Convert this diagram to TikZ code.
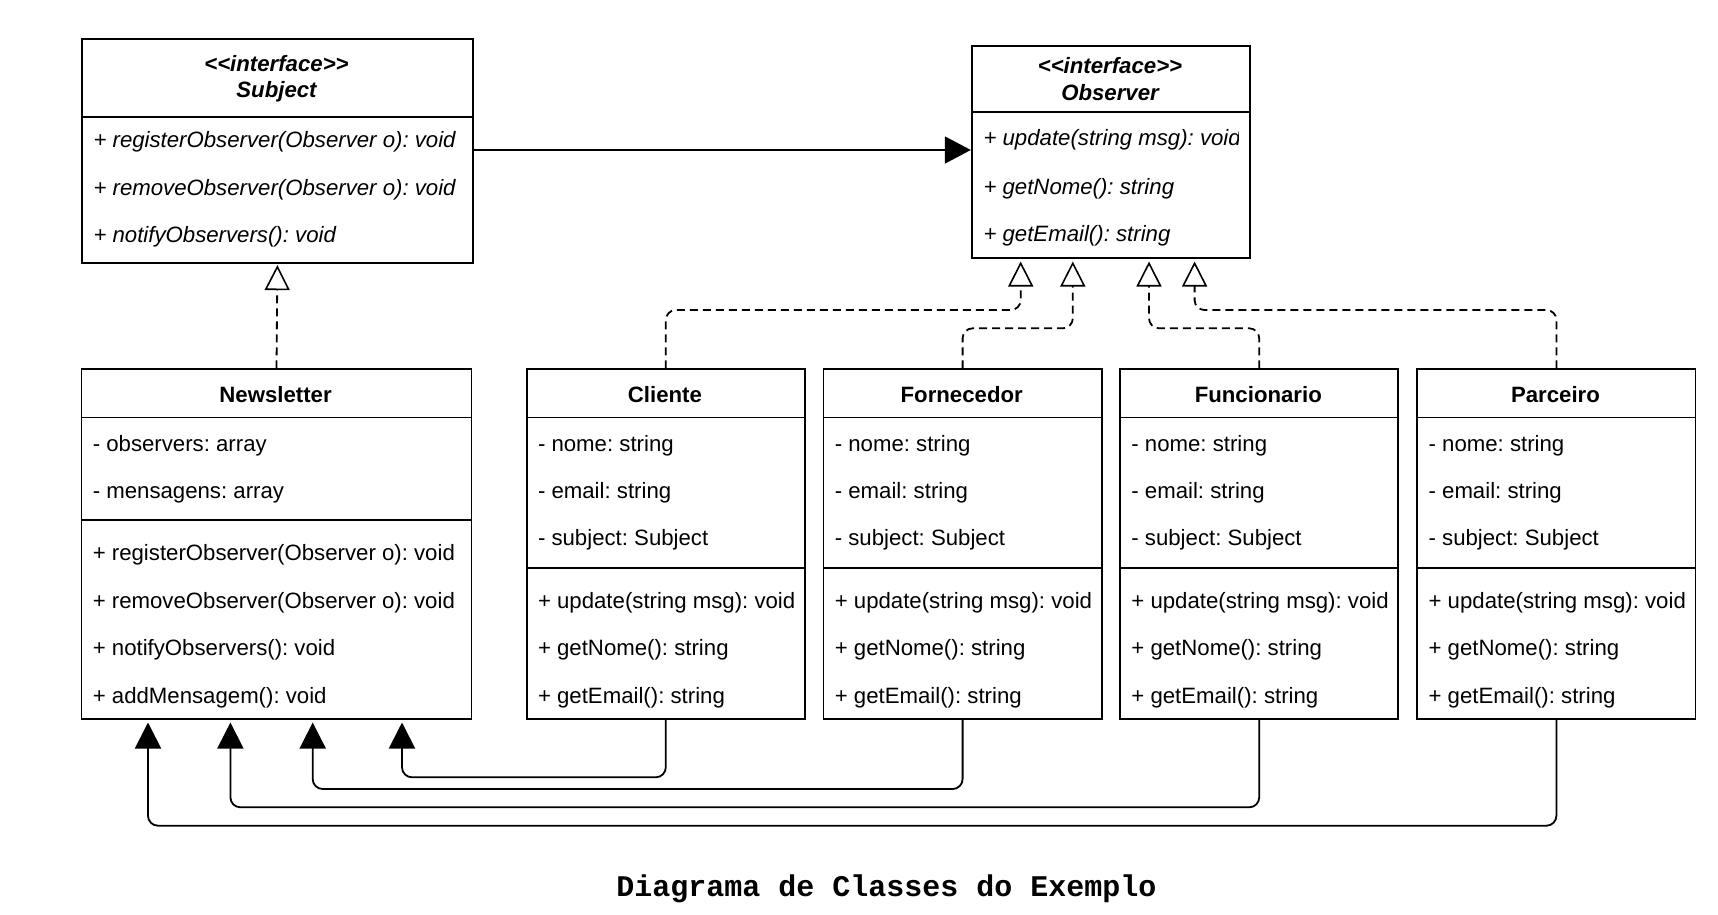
\documentclass[tikz,border=0pt]{standalone}
\usepackage{fontspec}
\setmainfont{Liberation Sans}
\newfontfamily\capfont{Liberation Mono}
\usetikzlibrary{arrows.meta}
\frenchspacing
\newcommand{\stereo}{{<}{<}interface{>}{>}}
\begin{document}
\begin{tikzpicture}[x=1pt,y=-1pt,
  cls/.style={draw, line width=1.8pt, rectangle, inner sep=0pt, anchor=north west},
  row/.style={anchor=base west, inner sep=0pt, font=\fontsize{22.2}{26}\selectfont\frenchspacing},
  irow/.style={anchor=base west, inner sep=0pt, font=\fontsize{22.2}{26}\selectfont\itshape\frenchspacing},
  ttl/.style={anchor=base, inner sep=0pt, font=\fontsize{22.2}{26}\selectfont\bfseries},
  ittl/.style={anchor=base, inner sep=0pt, font=\fontsize{22.2}{26}\selectfont\bfseries\itshape},
  sepline/.style={line width=1.8pt},
  realize/.style={line width=1.8pt, dash pattern=on 8pt off 5pt, rounded corners=10pt,
    -{Triangle[open, length=25pt, width=25pt, line width=1.6pt]}},
  assoc/.style={line width=1.8pt, rounded corners=10pt,
    -{Triangle[length=26pt, width=26pt]}}
]
\useasboundingbox (0,0) rectangle (1718,914);

% ---------------- Subject ----------------
\node[cls, minimum width=391pt, minimum height=224pt] (subj) at (81,38.3) {};
\draw[sepline] (subj.west |- 0,116.8) -- (subj.east |- 0,116.8);
\node[ittl] (subjst) at (276.5,71.3) {\stereo};
\node[ittl] (subjnm) at (276.5,97.3) {Subject};
\node[irow] (subjm1) at (93.3,147.8) {+ registerObserver(Observer o): void};
\node[irow] (subjm2) at (93.3,195.2) {+ removeObserver(Observer o): void};
\node[irow] (subjm3) at (93.3,242.6) {+ notifyObservers(): void};

% ---------------- Observer ----------------
\node[cls, minimum width=278pt, minimum height=212.3pt] (obs) at (970.8,45) {};
\draw[sepline] (obs.west |- 0,111.7) -- (obs.east |- 0,111.7);
\node[ittl] (obsst) at (1110,73.3) {\stereo};
\node[ittl] (obsnm) at (1110,100) {Observer};
\begin{scope}
  \clip (975,115) rectangle (1238.3,165);
  \node[irow] (obsm1) at (983.3,145) {+ update(string msg): void};
\end{scope}
\node[irow] (obsm2) at (983.3,194) {+ getNome(): string};
\node[irow] (obsm3) at (983.3,241.7) {+ getEmail(): string};

% ---------------- Newsletter ----------------
\node[cls, minimum width=390pt, minimum height=350pt] (news) at (80.6,368.3) {};
\draw[sepline] (news.west |- 0,417.5) -- (news.east |- 0,417.5);
\draw[sepline] (news.west |- 0,520) -- (news.east |- 0,520);
\node[ttl] (newst) at (275.6,402.3) {Newsletter};
\node[row] (newsa1) at (92.6,451.8) {- observers: array};
\node[row] (newsa2) at (92.6,498.5) {- mensagens: array};
\node[row] (newsm1) at (92.6,560.8) {+ registerObserver(Observer o): void};
\node[row] (newsm2) at (92.6,608.3) {+ removeObserver(Observer o): void};
\node[row] (newsm3) at (92.6,655.5) {+ notifyObservers(): void};
\node[row] (newsm4) at (92.6,703.3) {+ addMensagem(): void};

% ---------------- Observer classes ----------------
\foreach \n/\x/\t in {cli/525.8/Cliente, forn/822.6/Fornecedor, func/1119.2/Funcionario, parc/1416.4/Parceiro}{
  \node[cls, minimum width=278.2pt, minimum height=350pt] (\n) at (\x,368.3) {};
  \draw[sepline] (\n.west |- 0,417.5) -- (\n.east |- 0,417.5);
  \draw[sepline] (\n.west |- 0,568.3) -- (\n.east |- 0,568.3);
  \node[ttl] (\n t) at ([xshift=139.1pt]\x,402.3) {\t};
  \node[row] (\n a1) at ([xshift=12pt]\x,451.8) {- nome: string};
  \node[row] (\n a2) at ([xshift=12pt]\x,498.5) {- email: string};
  \node[row] (\n a3) at ([xshift=12pt]\x,545.2) {- subject: Subject};
  \node[row] (\n m1) at ([xshift=12pt]\x,608.3) {+ update(string msg): void};
  \node[row] (\n m2) at ([xshift=12pt]\x,655.5) {+ getNome(): string};
  \node[row] (\n m3) at ([xshift=12pt]\x,703.3) {+ getEmail(): string};
}

% ---------------- Connectors ----------------
% Subject -> Observer association
\draw[line width=1.8pt, -{Triangle[length=26pt, width=27pt]}] (subj.east |- 0,150) -- (obs.west |- 0,150);

% Newsletter realizes Subject
\draw[realize] (news.north) -- ([yshift=-1pt]subj.south);

% Observer realizations
\coordinate (o1) at (1020.7,261.5);
\coordinate (o2) at (1072.8,261.5);
\coordinate (o3) at (1149,261.5);
\coordinate (o4) at (1194.6,261.5);
\draw[realize] (cli.north) -- (cli.north |- 0,310) -- (o1 |- 0,310) -- (o1);
\draw[realize] (forn.north) -- (forn.north |- 0,328.3) -- (o2 |- 0,328.3) -- (o2);
\draw[realize] (func.north) -- (func.north |- 0,328.3) -- (o3 |- 0,328.3) -- (o3);
\draw[realize] (parc.north) -- (parc.north |- 0,310) -- (o4 |- 0,310) -- (o4);

% Observer classes -> Newsletter
\coordinate (n1) at (148,722.5);
\coordinate (n2) at (230.4,722.5);
\coordinate (n3) at (312.7,722.5);
\coordinate (n4) at (402,722.5);
\draw[assoc] (cli.south) -- (cli.south |- 0,777.3) -- (n4 |- 0,777.3) -- (n4);
\draw[assoc] (forn.south) -- (forn.south |- 0,789) -- (n3 |- 0,789) -- (n3);
\draw[assoc] (func.south) -- (func.south |- 0,807.3) -- (n2 |- 0,807.3) -- (n2);
\draw[assoc] (parc.south) -- (parc.south |- 0,825.7) -- (n1 |- 0,825.7) -- (n1);

% ---------------- Caption ----------------
\node[anchor=base, inner sep=0pt, font=\capfont\bfseries\fontsize{30}{36}\selectfont] (cap) at (886.5,896) {Diagrama de Classes do Exemplo};
\end{tikzpicture}
\end{document}
